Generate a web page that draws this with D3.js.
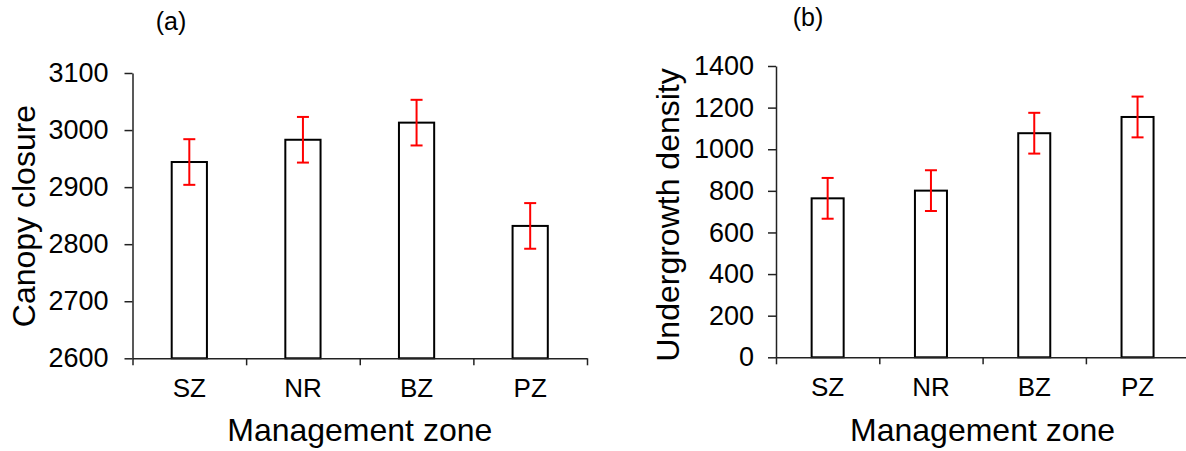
<!DOCTYPE html>
<html>
<head>
<meta charset="utf-8">
<script src="https://cdn.jsdelivr.net/npm/d3@7"></script>
<style>
  html, body { margin: 0; padding: 0; background: #fff; }
  svg { display: block; }
  text { font-family: "Liberation Sans", Arial, sans-serif; fill: #000; }
</style>
</head>
<body>
<svg id="chart" width="1186" height="451"></svg>
<script>
// Management zones shared by both panels
const zones = ["SZ", "NR", "BZ", "PZ"];

// (a) Canopy closure: means and standard errors
const canopyMean = [2944, 2983, 3013, 2832];
const canopyErr  = [40, 40, 40, 40];
const canopyTicks = [2600, 2700, 2800, 2900, 3000, 3100];

// (b) Undergrowth density: means and standard errors
const underMean = [764, 801, 1077, 1155];
const underErr  = [98, 98, 98, 98];
const underTicks = [0, 200, 400, 600, 800, 1000, 1200, 1400];

const svg = d3.select("#chart");

function panel(cfg) {
  const g = svg.append("g");
  const x = d3.scaleBand().domain(zones)
    .range([cfg.x0, cfg.x1]).paddingInner(0.69).paddingOuter(0.345);
  const xb = d3.scaleLinear().domain([0, zones.length]).range([cfg.x0, cfg.x1]);
  const y = d3.scaleLinear().domain(cfg.domain).range([cfg.yBottom, cfg.yTop]);

  // bars
  g.selectAll("rect.bar").data(cfg.mean).join("rect")
    .attr("class", "bar")
    .attr("x", (d, i) => x(zones[i]))
    .attr("width", x.bandwidth())
    .attr("y", d => y(d))
    .attr("height", d => y(cfg.domain[0]) - y(d))
    .attr("fill", "#fff")
    .attr("stroke", "#000")
    .attr("stroke-width", 2);

  // y axis
  const ya = g.append("g")
    .attr("transform", `translate(${cfg.x0},0)`)
    .call(d3.axisLeft(y).tickValues(cfg.ticks).tickSize(8).tickSizeOuter(0)
      .tickPadding(cfg.tickPad).tickFormat(d3.format("d")));
  ya.select(".domain").attr("stroke", "#222").attr("stroke-width", 1.5);
  ya.selectAll(".tick line").attr("stroke", "#222").attr("stroke-width", 1.5);
  ya.selectAll(".tick text").attr("font-size", 27)
    .attr("font-family", "Liberation Sans, Arial, sans-serif").attr("fill", "#000");

  // x axis with ticks at the category boundaries
  const xa = g.append("g")
    .attr("transform", `translate(0,${cfg.yBottom})`)
    .call(d3.axisBottom(xb).tickValues(d3.range(zones.length + 1)).tickSize(7).tickSizeOuter(0).tickFormat(""));
  xa.select(".domain").attr("stroke", "#222").attr("stroke-width", 1.5);
  xa.selectAll(".tick line").attr("stroke", "#222").attr("stroke-width", 1.5);

  // category labels
  g.selectAll("text.cat").data(zones).join("text")
    .attr("class", "cat")
    .attr("x", d => x(d) + x.bandwidth() / 2)
    .attr("y", cfg.yBottom + 39)
    .attr("text-anchor", "middle")
    .attr("font-size", 26)
    .text(d => d);

  // error bars
  const cap = 6;
  const eb = g.selectAll("g.err").data(cfg.mean).join("g").attr("class", "err")
    .attr("stroke", "#ff0000").attr("stroke-width", 2);
  eb.append("line")
    .attr("x1", (d, i) => x(zones[i]) + x.bandwidth() / 2)
    .attr("x2", (d, i) => x(zones[i]) + x.bandwidth() / 2)
    .attr("y1", (d, i) => y(d + cfg.err[i]))
    .attr("y2", (d, i) => y(d - cfg.err[i]));
  [1, -1].forEach(s => {
    eb.append("line")
      .attr("x1", (d, i) => x(zones[i]) + x.bandwidth() / 2 - cap)
      .attr("x2", (d, i) => x(zones[i]) + x.bandwidth() / 2 + cap)
      .attr("y1", (d, i) => y(d + s * cfg.err[i]))
      .attr("y2", (d, i) => y(d + s * cfg.err[i]));
  });

  // axis titles
  g.append("text")
    .attr("x", (cfg.x0 + cfg.x1) / 2)
    .attr("y", 441)
    .attr("text-anchor", "middle")
    .attr("font-size", 32)
    .text("Management zone");
  g.append("text")
    .attr("transform", `translate(${cfg.yTitleX},${cfg.yTitleY}) rotate(-90)`)
    .attr("text-anchor", "middle")
    .attr("font-size", 32)
    .text(cfg.yTitle);

  // panel letter
  g.append("text")
    .attr("x", cfg.letterX)
    .attr("y", cfg.letterY)
    .attr("text-anchor", "middle")
    .attr("font-size", 25)
    .text(cfg.letter);
}

panel({
  x0: 132.5, x1: 587, yTop: 73, yBottom: 358.3,
  domain: [2600, 3100], ticks: canopyTicks, tickPad: 16,
  mean: canopyMean, err: canopyErr,
  yTitle: "Canopy closure", yTitleX: 35, yTitleY: 216,
  letter: "(a)", letterX: 171, letterY: 30
});

panel({
  x0: 776, x1: 1189.2, yTop: 66, yBottom: 357.3,
  domain: [0, 1400], ticks: underTicks, tickPad: 14,
  mean: underMean, err: underErr,
  yTitle: "Undergrowth density", yTitleX: 679, yTitleY: 215,
  letter: "(b)", letterX: 808, letterY: 26
});
</script>
</body>
</html>
